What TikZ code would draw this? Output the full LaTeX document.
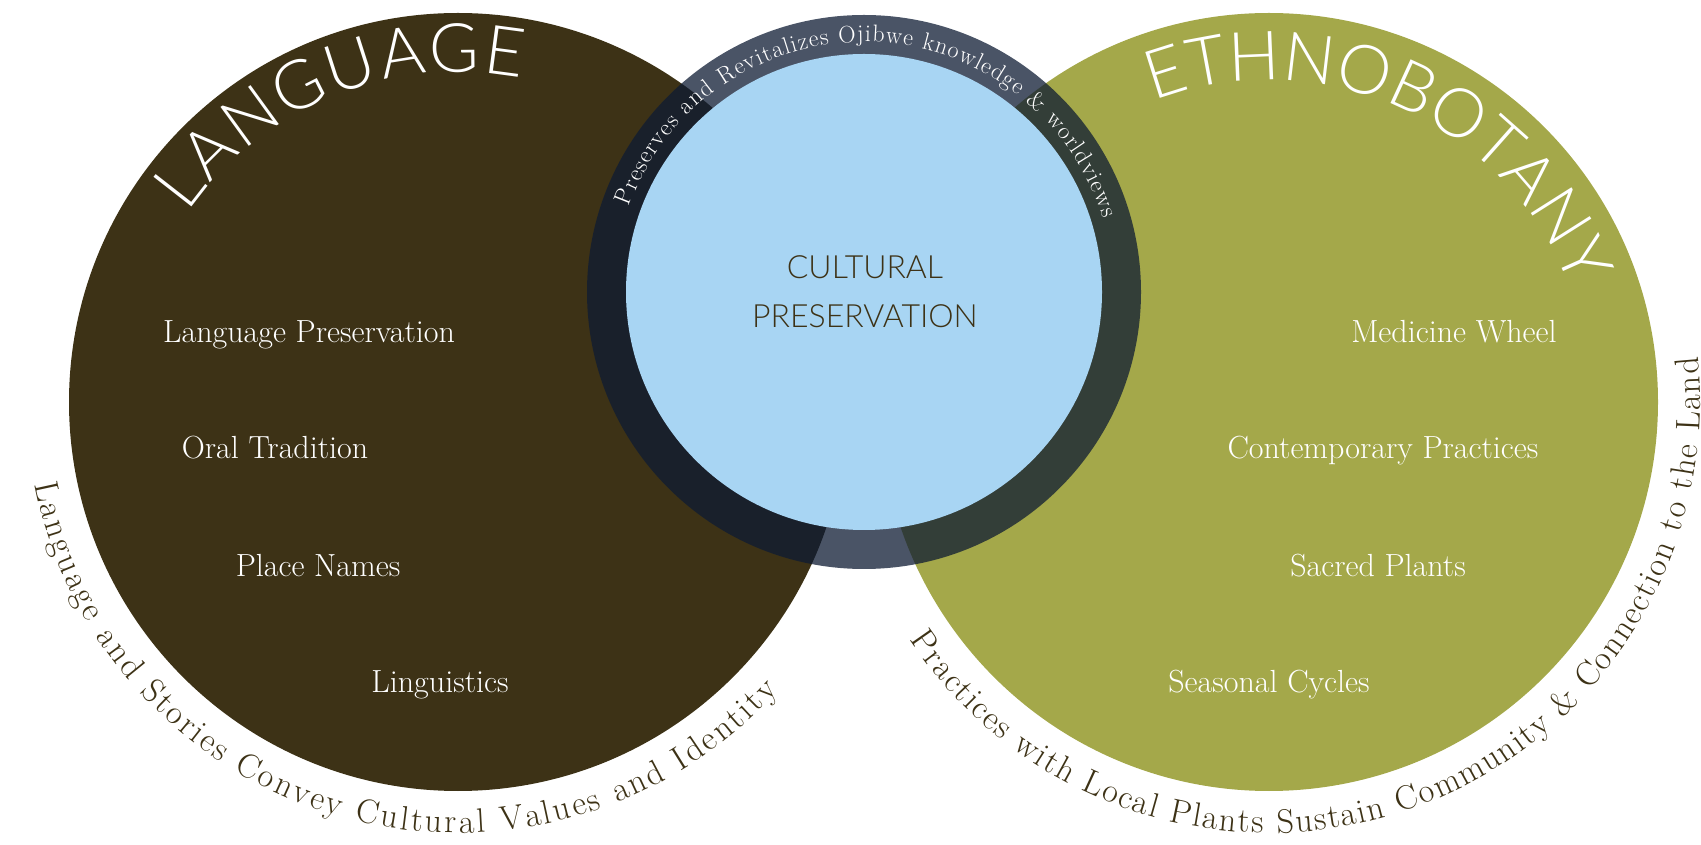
\documentclass[tikz,border=0pt]{standalone}
\usepackage{fontspec}
\newfontfamily\thinsans{Lato-Light.ttf}
\usetikzlibrary{decorations.text}
\definecolor{brownc}{HTML}{3D3216}
\definecolor{olivec}{HTML}{A4A84A}
\definecolor{bluec}{HTML}{A8D5F3}
\definecolor{ringc}{HTML}{0E1B33}
\definecolor{textdark}{HTML}{3D3216}
\tikzset{
  item/.style={font=\fontsize{32}{38}\selectfont, text=white, anchor=base, inner sep=0pt},
  centertext/.style={font=\thinsans\fontsize{32}{49}\selectfont, text=textdark, align=center, inner sep=0pt},
}
\begin{document}
\begin{tikzpicture}[x=1pt,y=1pt]
\useasboundingbox (0,0) rectangle (1701,844);
\coordinate (L) at (458,442);
\coordinate (R) at (1269,442);
\coordinate (C) at (864,552);
% circles
\fill[brownc] (L) circle[radius=389];
\fill[olivec] (R) circle[radius=389];
\fill[ringc, fill opacity=0.75] (C) circle[radius=277];
\fill[bluec] (C) circle[radius=238];
% items
\node[item] (lp) at (309,501) {Language Preservation};
\node[item] (ot) at (275,385) {Oral Tradition};
\node[item] (pn) at (318,267) {Place Names};
\node[item] (li) at (440,151) {Linguistics};
\node[item] (mw) at (1454,501) {Medicine Wheel};
\node[item] (cpr) at (1383,385) {Contemporary Practices};
\node[item] (sp) at (1378,267) {Sacred Plants};
\node[item] (sc) at (1269,151) {Seasonal Cycles};
\node[centertext] (cp) at (865,552) {CULTURAL\\PRESERVATION};
% curved titles
\path[decorate, decoration={text along path, text align=fit to path, text color=white,
  text={|\thinsans\fontsize{68}{72}\selectfont|LANGUAGE}}]
  (L) ++(145:330) arc[start angle=145, end angle=79, radius=330];
\path[decorate, decoration={text along path, text align=fit to path, text color=white,
  text={|\thinsans\fontsize{68}{72}\selectfont|ETHNOBOTANY}}]
  (R) ++(111:322) arc[start angle=111, end angle=22, radius=322];
% ring text
\path[decorate, decoration={text along path, text align=fit to path, text color=white,
  text={|\fontsize{24}{28}\selectfont|Preserves and Revitalizes Ojibwe knowledge {\&} worldviews}}]
  (C) ++(160:250) arc[start angle=160, end angle=17, radius=250];
% outer captions
\path[decorate, decoration={text along path, text align=fit to path, text color=textdark,
  text={|\fontsize{34}{40}\selectfont|Language and Stories Convey Cultural Values and Identity}}]
  (L) ++(191:431) arc[start angle=191, end angle=318, radius=431];
\path[decorate, decoration={text along path, text align=fit to path, text color=textdark,
  text={|\fontsize{34}{40}\selectfont|Practices with Local Plants Sustain Community {\&} Connection to the Land}}]
  (R) ++(213.5:431) arc[start angle=213.5, end angle=366, radius=431];
\end{tikzpicture}
\end{document}
